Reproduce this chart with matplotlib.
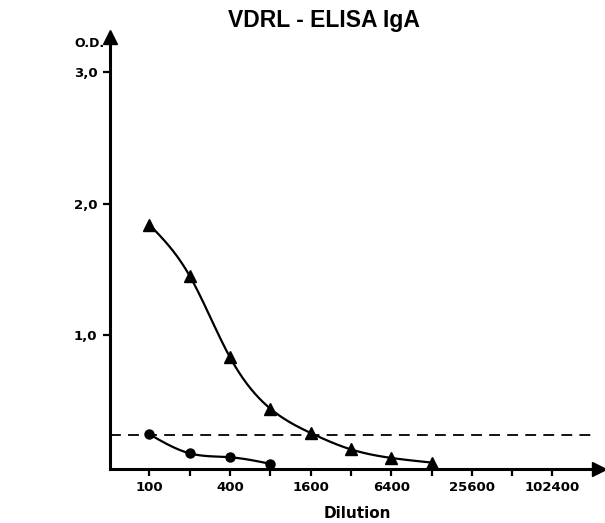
import numpy as np
import matplotlib
matplotlib.use('Agg')
import matplotlib.pyplot as plt

plt.rcParams['font.family'] = ['DejaVu Sans']

# data
dil_a = [100, 200, 400, 800, 1600, 3200, 6400, 12800]
od_a = [1.84, 1.45, 0.83, 0.44, 0.255, 0.13, 0.065, 0.03]
dil_b = [100, 200, 400, 800]
od_b = [0.245, 0.10, 0.07, 0.02]
cutoff = 0.24
tick_dil = [100, 200, 400, 800, 1600, 3200, 6400, 12800, 25600, 51200, 102400]
tick_lab = ['100', '', '400', '', '1600', '', '6400', '', '25600', '', '102400']


def smooth(xs, ys, n=30):
    # natural cubic spline through the points, in log2 space
    x = np.log2(np.array(xs, float))
    y = np.array(ys, float)
    k = len(x)
    h = np.diff(x)
    A = np.zeros((k, k))
    r = np.zeros(k)
    A[0, 0] = A[-1, -1] = 1
    for i in range(1, k - 1):
        A[i, i - 1] = h[i - 1]
        A[i, i] = 2 * (h[i - 1] + h[i])
        A[i, i + 1] = h[i]
        r[i] = 6 * ((y[i + 1] - y[i]) / h[i] - (y[i] - y[i - 1]) / h[i - 1])
    M = np.linalg.solve(A, r)
    xx, yy = [], []
    for i in range(k - 1):
        t = np.linspace(x[i], x[i + 1], n)
        a = (x[i + 1] - t) / h[i]
        b = (t - x[i]) / h[i]
        s = a * y[i] + b * y[i + 1] + ((a**3 - a) * M[i] + (b**3 - b) * M[i + 1]) * h[i]**2 / 6
        xx.append(t)
        yy.append(s)
    return 2 ** np.concatenate(xx), np.concatenate(yy)


fig = plt.figure(figsize=(6.05, 5.23), dpi=100)
ax = fig.add_axes([0.1818, 0.1033, 0.8165, 0.8337])

ax.set_xscale('log', base=2)
ax.set_xlim(50.7, 248700)
ax.set_ylim(-0.019, 3.30)

sx, sy = smooth(dil_a, od_a)
ax.plot(sx, sy, color='black', lw=1.6)
ax.plot(dil_a, od_a, '^', color='black', ms=8.5)
sx, sy = smooth(dil_b, od_b)
ax.plot(sx, sy, color='black', lw=1.6)
ax.plot(dil_b, od_b, 'o', color='black', ms=6.5)

ax.axhline(cutoff, xmin=0, xmax=0.98, color='black', lw=1.3, dashes=(6, 4))

ax.set_xticks(tick_dil)
ax.set_xticklabels(tick_lab)
ax.xaxis.set_minor_locator(matplotlib.ticker.NullLocator())
ax.set_yticks([1.0, 2.0, 3.0])
ax.set_yticklabels(['1,0', '2,0', '3,0'])
ax.tick_params(axis='both', direction='out', length=5, width=1.6,
               labelsize=9.5, pad=4)
for lab in ax.get_xticklabels() + ax.get_yticklabels():
    lab.set_fontweight('bold')

for s in ['top', 'right']:
    ax.spines[s].set_visible(False)
for s in ['left', 'bottom']:
    ax.spines[s].set_linewidth(2.2)

# arrow heads on the axes
ax.plot(0, 0.99, '^', color='black', ms=10, transform=ax.transAxes, clip_on=False)
ax.plot(0.99, 0, '>', color='black', ms=10, transform=ax.transAxes, clip_on=False)

ax.text(-0.012, 0.975, 'O.D.', transform=ax.transAxes, ha='right', va='center',
        fontsize=9, fontweight='bold')
ax.set_xlabel('Dilution', fontsize=11, fontweight='bold', labelpad=8)
fig.text(0.535, 0.961, 'VDRL - ELISA IgA', ha='center', va='center',
         fontsize=16.5, fontweight='bold', family='Liberation Sans')

fig.savefig('out.png', dpi=100)
